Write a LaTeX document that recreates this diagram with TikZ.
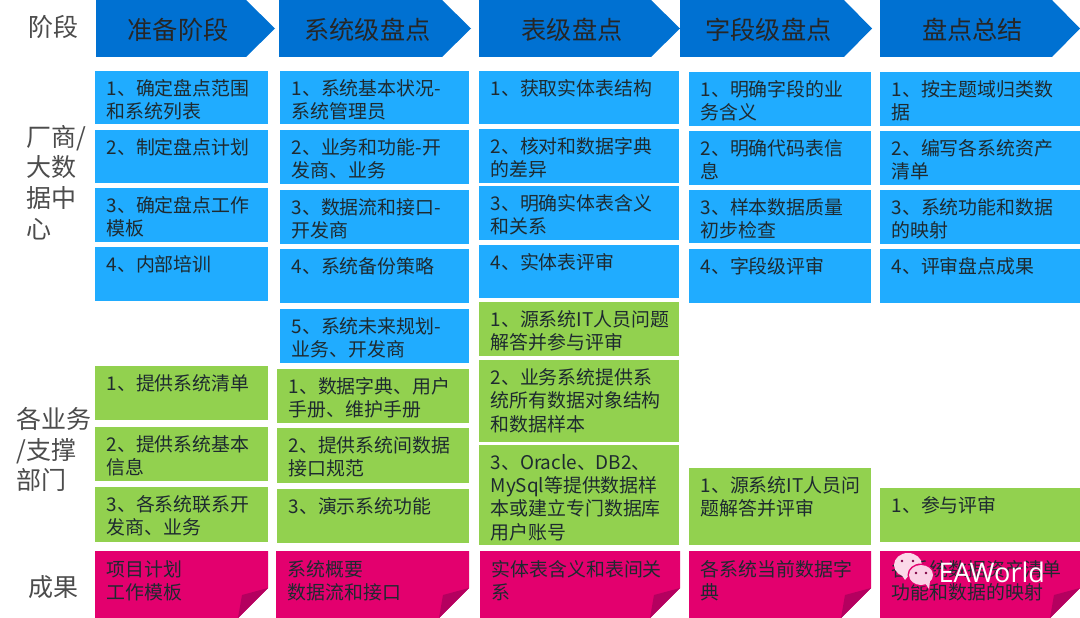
\documentclass[tikz,border=0pt]{standalone}
\usepackage{fontspec}
\setmainfont{Noto Sans CJK SC}
\newfontfamily\wmfont{Open Sans}
\usepackage{tikz}
\usetikzlibrary{calc}
\definecolor{hdblue}{HTML}{0071D2}
\definecolor{cellblue}{HTML}{20ACFF}
\definecolor{cellgreen}{HTML}{92D14F}
\definecolor{cellpink}{HTML}{E3006E}
\definecolor{foldpink}{HTML}{B4005F}
\definecolor{inktext}{HTML}{1E2A30}
\tikzset{
  celltext/.style={anchor=north west, inner sep=0pt, align=left, text=inktext,
    font=\fontsize{18.9}{23.2}\selectfont},
  headtext/.style={inner sep=0pt, text=black!85, font=\fontsize{25.2}{30}\selectfont},
  sidetext/.style={anchor=north west, inner sep=0pt, align=left, text=black!70,
    font=\fontsize{25}{30.6}\selectfont}
}
% name, colour, x0, y0, x1, y1, text
\newcommand{\cellbox}[7]{
  \fill[#2] (#3,#4) rectangle (#5,#6);
  \node[celltext] (#1) at ($(#3,#4)+(11.5,8.5)$) {#7};
}
% name, x0, x1 (shoulder), x2 (tip), text
\newcommand{\headbox}[5]{
  \fill[hdblue] (#2,0) -- (#3,0) -- (#4,28.5) -- (#3,57) -- (#2,57) -- cycle;
  \node[headtext] (#1) at ($($(#2,29.5)!.5!(#4,29.5)$)+(-7.5,0)$) {#5};
}
% name, x0, x1, text
\newcommand{\notebox}[4]{
  \fill[cellpink] (#2,551) -- (#3,551) -- (#3,588) -- ($(#3,618)+(-30,0)$) -- (#2,618) -- cycle;
  \fill[foldpink] (#3,588) -- ($(#3,595)+(-26,0)$) -- ($(#3,618)+(-30,0)$) -- cycle;
  \node[celltext] (#1) at ($(#2,551)+(11.5,9.5)$) {#4};
}
\begin{document}
\begin{tikzpicture}[x=1pt, y=-1pt]
\useasboundingbox (0,0) rectangle (1080,618);
\headbox{stage1}{96}{246}{275}{准备阶段}
\headbox{stage2}{279}{442}{471}{系统级盘点}
\headbox{stage3}{479}{651}{680}{表级盘点}
\headbox{stage4}{680}{844}{872}{字段级盘点}
\headbox{stage5}{880}{1052}{1080}{盘点总结}
\node[sidetext] (rowstage) at (28,15.5) {阶段};
\node[sidetext] (rowvendor) at (26,125) {厂商/\\大数\\据中\\心};
\node[sidetext] (rowdept) at (16,407) {各业务\\/支撑\\部门};
\node[sidetext] (rowresult) at (28,575.5) {成果};
%%%%%%%%%%%% col 1
\cellbox{a1}{cellblue}{95}{71}{268}{124}{1、确定盘点范围\\和系统列表}
\cellbox{a2}{cellblue}{95}{130}{268}{183}{2、制定盘点计划}
\cellbox{a3}{cellblue}{95}{188}{268}{242}{3、确定盘点工作\\模板}
\cellbox{a4}{cellblue}{95}{247}{268}{301}{4、内部培训}
\cellbox{a5}{cellgreen}{95}{366}{268}{420}{1、提供系统清单}
\cellbox{a6}{cellgreen}{95}{427}{268}{481}{2、提供系统基本\\信息}
\cellbox{a7}{cellgreen}{95}{487}{268}{542}{3、各系统联系开\\发商、业务}
\notebox{a8}{95}{268}{项目计划\\工作模板}
%%%%%%%%%%%% col 2
\cellbox{b1}{cellblue}{280}{71}{469}{124}{1、系统基本状况-\\系统管理员}
\cellbox{b2}{cellblue}{280}{130}{469}{184}{2、业务和功能-开\\发商、业务}
\cellbox{b3}{cellblue}{280}{190}{469}{244}{3、数据流和接口-\\开发商}
\cellbox{b4}{cellblue}{280}{249}{469}{303}{4、系统备份策略}
\cellbox{b5}{cellblue}{280}{309}{469}{363}{5、系统未来规划-\\业务、开发商}
\cellbox{b6}{cellgreen}{277}{369}{469}{423}{1、数据字典、用户\\手册、维护手册}
\cellbox{b7}{cellgreen}{277}{428}{469}{483}{2、提供系统间数据\\接口规范}
\cellbox{b8}{cellgreen}{277}{489}{469}{543}{3、演示系统功能}
\notebox{b9}{276}{469}{系统概要\\数据流和接口}
%%%%%%%%%%%% col 3
\cellbox{c1}{cellblue}{479}{71}{679}{124}{1、获取实体表结构}
\cellbox{c2}{cellblue}{479}{129}{679}{183}{2、核对和数据字典\\的差异}
\cellbox{c3}{cellblue}{479}{186}{679}{240}{3、明确实体表含义\\和关系}
\cellbox{c4}{cellblue}{479}{245}{679}{298}{4、实体表评审}
\cellbox{c5}{cellgreen}{479}{302}{679}{356}{1、源系统IT人员问题\\解答并参与评审}
\cellbox{c6}{cellgreen}{479}{360}{679}{442}{2、业务系统提供系\\统所有数据对象结构\\和数据样本}
\cellbox{c7}{cellgreen}{479}{445}{679}{545}{\vphantom{中}3、Oracle、DB2、\\MySql等提供数据样\\本或建立专门数据库\\用户账号}
\notebox{c8}{480}{680}{实体表含义和表间关\\系}
%%%%%%%%%%%% col 4
\cellbox{d1}{cellblue}{689}{72}{871}{126}{1、明确字段的业\\务含义}
\cellbox{d2}{cellblue}{689}{131}{871}{185}{2、明确代码表信\\息}
\cellbox{d3}{cellblue}{689}{190}{871}{243}{3、样本数据质量\\初步检查}
\cellbox{d4}{cellblue}{689}{249}{871}{303}{4、字段级评审}
\cellbox{d5}{cellgreen}{689}{468}{871}{545}{1、源系统IT人员问\\题解答并评审}
\notebox{d6}{689}{871}{各系统当前数据字\\典}
%%%%%%%%%%%% col 5
\cellbox{e1}{cellblue}{880}{72}{1080}{126}{1、按主题域归类数\\据}
\cellbox{e2}{cellblue}{880}{131}{1080}{185}{2、编写各系统资产\\清单}
\cellbox{e3}{cellblue}{880}{190}{1080}{244}{3、系统功能和数据\\的映射}
\cellbox{e4}{cellblue}{880}{249}{1080}{303}{4、评审盘点成果}
\cellbox{e5}{cellgreen}{880}{488}{1080}{542}{1、参与评审}
\notebox{e6}{880}{1080}{各系统数据资产清单\\功能和数据的映射}
%%%%%%%%%%%% watermark
\fill[white!85!cellpink] (908,565) ellipse (14 and 12);
\fill[white!85!cellpink] (901,574) -- (905,580) -- (909,575) -- cycle;
\fill[cellpink] (921,575) ellipse (13.5 and 11.5);
\fill[white!82!cellpink] (921,575) ellipse (12 and 10);
\fill[white!82!cellpink] (925,583) -- (929,589) -- (930,581) -- cycle;
\foreach \ex/\ey in {902/561, 913/561, 916/573, 926/573} \fill[foldpink!70!black] (\ex,\ey) circle (1.3);
\node[inner sep=0pt, anchor=west, text=white, font=\wmfont\fontsize{27}{30}\selectfont] (wmark) at (938.5,572) {EAWorld};
\end{tikzpicture}
\end{document}
